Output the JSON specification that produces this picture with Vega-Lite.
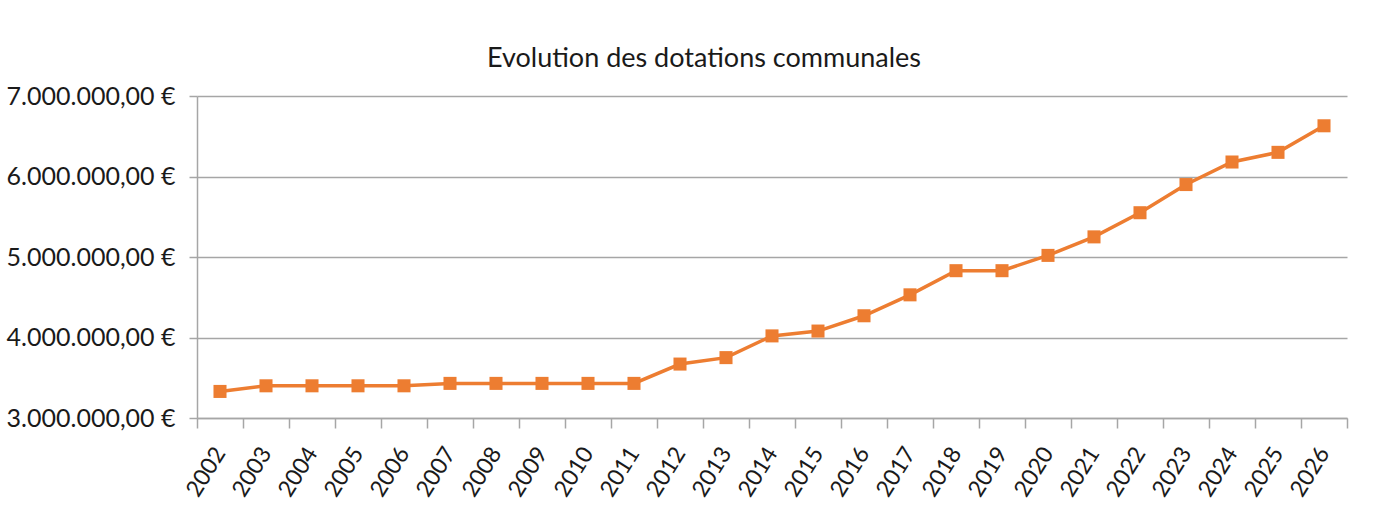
{
  "$schema": "https://vega.github.io/schema/vega-lite/v6.json",
  "width": 1150,
  "height": 322,
  "autosize": {"type": "none"},
  "padding": {"left": 197, "top": 96, "right": 48, "bottom": 113},
  "background": "white",
  "title": {
    "text": "Evolution des dotations communales",
    "font": "Lato",
    "fontSize": 27,
    "fontWeight": "normal",
    "color": "#1a1a1a",
    "anchor": "middle",
    "dx": -68,
    "offset": 11
  },
  "data": {
    "values": [
      {"year": 2002, "value": 3330000},
      {"year": 2003, "value": 3400000},
      {"year": 2004, "value": 3400000},
      {"year": 2005, "value": 3400000},
      {"year": 2006, "value": 3400000},
      {"year": 2007, "value": 3430000},
      {"year": 2008, "value": 3430000},
      {"year": 2009, "value": 3430000},
      {"year": 2010, "value": 3430000},
      {"year": 2011, "value": 3430000},
      {"year": 2012, "value": 3670000},
      {"year": 2013, "value": 3750000},
      {"year": 2014, "value": 4020000},
      {"year": 2015, "value": 4080000},
      {"year": 2016, "value": 4270000},
      {"year": 2017, "value": 4530000},
      {"year": 2018, "value": 4830000},
      {"year": 2019, "value": 4830000},
      {"year": 2020, "value": 5020000},
      {"year": 2021, "value": 5250000},
      {"year": 2022, "value": 5550000},
      {"year": 2023, "value": 5900000},
      {"year": 2024, "value": 6180000},
      {"year": 2025, "value": 6300000},
      {"year": 2026, "value": 6630000}
    ]
  },
  "resolve": {"axis": {"x": "independent", "y": "independent"}},
  "layer": [
    {
      "mark": {"type": "line", "color": "#ED7D31", "strokeWidth": 3.5},
      "encoding": {
        "x": {
          "field": "year",
          "type": "quantitative",
          "scale": {"domain": [2001.5, 2026.5], "nice": false, "zero": false},
          "axis": {
            "orient": "bottom",
            "title": null,
            "values": [2002, 2003, 2004, 2005, 2006, 2007, 2008, 2009, 2010, 2011, 2012, 2013, 2014, 2015, 2016, 2017, 2018, 2019, 2020, 2021, 2022, 2023, 2024, 2025, 2026],
            "labelExpr": "toString(datum.value)",
            "labelAngle": -58,
            "labelFont": "Lato",
            "labelFontSize": 23,
            "labelColor": "#1a1a1a",
            "labelPadding": 31,
            "ticks": false,
            "domain": false,
            "grid": false,
            "labelOverlap": false,
            "labelFlush": false
          }
        },
        "y": {
          "field": "value",
          "type": "quantitative",
          "scale": {"domain": [3000000, 7000000], "nice": false, "zero": false},
          "axis": {
            "title": null,
            "values": [3000000, 4000000, 5000000, 6000000, 7000000],
            "labelExpr": "toString(datum.value / 1000000) + '.000.000,00 €'",
            "labelFont": "Lato",
            "labelFontSize": 25,
            "labelColor": "#1a1a1a",
            "labelPadding": 14,
            "tickSize": 8,
            "tickColor": "#a6a6a6",
            "tickWidth": 1.5,
            "domainColor": "#a6a6a6",
            "domainWidth": 1.5,
            "grid": true,
            "gridColor": "#a6a6a6",
            "gridWidth": 1.5,
            "labelFlush": false
          }
        }
      }
    },
    {
      "mark": {"type": "point", "shape": "square", "filled": true, "size": 170, "color": "#ED7D31", "opacity": 1},
      "encoding": {
        "x": {
          "field": "year",
          "type": "quantitative",
          "axis": {
            "orient": "bottom",
            "title": null,
            "values": [2001.5, 2002.5, 2003.5, 2004.5, 2005.5, 2006.5, 2007.5, 2008.5, 2009.5, 2010.5, 2011.5, 2012.5, 2013.5, 2014.5, 2015.5, 2016.5, 2017.5, 2018.5, 2019.5, 2020.5, 2021.5, 2022.5, 2023.5, 2024.5, 2025.5, 2026.5],
            "labels": false,
            "tickSize": 10,
            "tickColor": "#a6a6a6",
            "tickWidth": 1.5,
            "domainColor": "#a6a6a6",
            "domainWidth": 1.5,
            "grid": false
          }
        },
        "y": {
          "field": "value",
          "type": "quantitative",
          "axis": null
        }
      }
    }
  ],
  "config": {
    "view": {"stroke": null}
  }
}
